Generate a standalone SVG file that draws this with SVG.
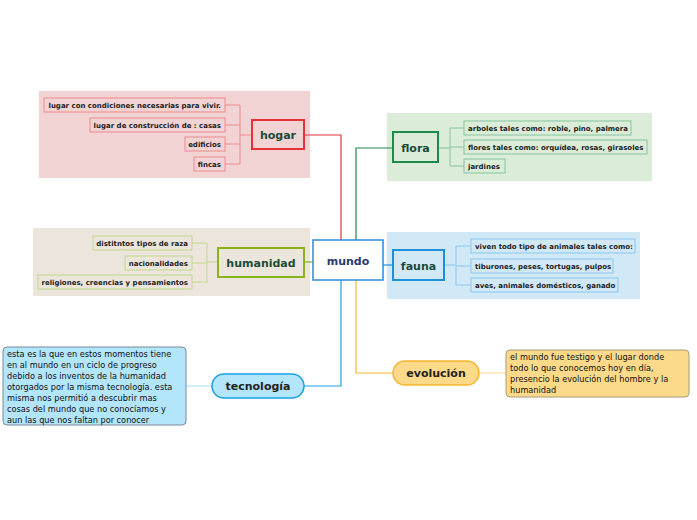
<svg xmlns="http://www.w3.org/2000/svg" width="697" height="520" viewBox="0 0 697 520">
<style>
.t{font-family:"DejaVu Sans",Verdana,sans-serif;font-weight:bold;font-size:7px;fill:#222}
.m{font-family:"DejaVu Sans",Verdana,sans-serif;font-weight:bold;font-size:11px;fill:#1a4a3a;text-anchor:middle}
.p{font-family:"DejaVu Sans",Verdana,sans-serif;font-size:8.2px;fill:#111}
.c{fill:none;stroke-width:1.2}
</style>
<rect width="697" height="520" fill="#fff"/>
<rect x="39" y="91" width="271" height="87" fill="#f2d3d3"/>
<rect x="33" y="228" width="277" height="68" fill="#ebe5dc"/>
<rect x="387" y="113" width="265" height="68" fill="#dbecd8"/>
<rect x="387" y="232" width="253" height="67" fill="#d1e8f7"/>
<g id="connectors" class="c">
<path d="M304 135H341V240" stroke="#e8323a"/>
<path d="M356 240V148H393" stroke="#1d8a4c"/>
<path d="M304 262H313" stroke="#8ab21a"/>
<path d="M383 265H393" stroke="#1d90d8"/>
<path d="M341 280V386H304" stroke="#1ba1e2"/>
<path d="M356 280V373H393" stroke="#f5b731"/>
<path d="M186 386H212" stroke="#b3e5fb"/>
<path d="M479 373H506" stroke="#fde0a0"/>
<path d="M252 135H240M225 105H240V164H225M225 125H240M225 144H240" stroke="#f08a8e" stroke-width="1"/>
<path d="M218 262H207M192 243H207V282H192M192 263H207" stroke="#c2d98a" stroke-width="1"/>
<path d="M438 148H450M464 128H450V166H464M450 147H464" stroke="#86c49c" stroke-width="1"/>
<path d="M444 265H456M471 246H456V285H471M456 266H471" stroke="#8ac6ee" stroke-width="1"/>
</g>
<g id="mundo"><rect x="313" y="240" width="70" height="40" fill="#fff" stroke="#2b8ad4" stroke-width="1.5"/><text x="348" y="265" class="m" style="fill:#2a3b6b">mundo</text></g>
<g id="hogar"><rect x="252" y="120" width="52" height="29" fill="#f2d3d3" stroke="#e8323a" stroke-width="2"/><text x="278" y="139" class="m">hogar</text></g>
<g id="hogar1" fill="#f2d3d3" stroke="#f08a8e">
<rect x="44" y="98" width="181" height="14"/><rect x="90" y="118" width="135" height="14"/><rect x="185" y="137" width="40" height="14"/><rect x="194" y="157" width="31" height="14"/></g>
<g text-anchor="end"><text class="t" x="221" y="108">lugar con condiciones necesarias para vivir.</text><text class="t" x="221" y="128">lugar de construcción de : casas</text><text class="t" x="221" y="147">edificios</text><text class="t" x="221" y="167">fincas</text></g>
<g id="humanidad"><rect x="218" y="248" width="86" height="29" fill="#ebe5dc" stroke="#8ab21a" stroke-width="2"/><text x="261" y="267" class="m">humanidad</text></g>
<g id="hum1" fill="#ebe5dc" stroke="#c2d98a"><rect x="93" y="236" width="99" height="14"/><rect x="125" y="256" width="67" height="14"/><rect x="38" y="275" width="154" height="14"/></g>
<g text-anchor="end"><text class="t" x="188" y="246">distitntos tipos de raza</text><text class="t" x="188" y="266">nacionalidades</text><text class="t" x="188" y="285">religiones, creencias y pensamientos</text></g>
<g id="flora"><rect x="393" y="132" width="45" height="30" fill="#dbecd8" stroke="#1d8a4c" stroke-width="2"/><text x="415.5" y="152" class="m">flora</text></g>
<g id="flora1" fill="#dbecd8" stroke="#86c49c"><rect x="464" y="121" width="167" height="14"/><rect x="464" y="140" width="183" height="14"/><rect x="464" y="159" width="41" height="14"/></g>
<text class="t" x="468" y="131">arboles tales como: roble, pino, palmera</text><text class="t" x="468" y="150">flores tales como: orquídea, rosas, girasoles</text><text class="t" x="468" y="169">jardines</text>
<g id="fauna"><rect x="393" y="250" width="51" height="30" fill="#d1e8f7" stroke="#1d90d8" stroke-width="2"/><text x="418.5" y="270" class="m">fauna</text></g>
<g id="fauna1" fill="#d1e8f7" stroke="#8ac6ee"><rect x="471" y="239" width="164" height="14"/><rect x="471" y="259" width="142" height="14"/><rect x="471" y="278" width="147" height="14"/></g>
<text class="t" x="475" y="249">viven todo tipo de animales tales como:</text><text class="t" x="475" y="269">tiburones, peses, tortugas, pulpos</text><text class="t" x="475" y="288">aves, animales domésticos, ganado</text>
<g id="evolucion"><rect x="393" y="361" width="86" height="24" rx="12" fill="#fdd98a" stroke="#f5b731" stroke-width="1.5"/><text x="436" y="377" class="m" style="fill:#222">evolución</text></g>
<g id="evo-text"><rect x="506" y="350" width="183" height="47" rx="4" fill="#fdd98a" stroke="#a89a7a"/><text class="p"><tspan x="510" y="360">el mundo fue testigo y el lugar donde</tspan><tspan x="510" y="371">todo lo que conocemos hoy en día,</tspan><tspan x="510" y="382">presencio la evolución del hombre y la</tspan><tspan x="510" y="393">humanidad</tspan></text></g>
<g id="tecnologia"><rect x="212" y="374" width="92" height="24" rx="12" fill="#b3e5fb" stroke="#1ba1e2" stroke-width="1.5"/><text x="258" y="390" class="m" style="fill:#222">tecnología</text></g>
<g id="tec-text"><rect x="3" y="347" width="183" height="78" rx="4" fill="#b3e5fb" stroke="#7a8a95"/><text class="p"><tspan x="7" y="357">esta es la que en estos momentos tiene</tspan><tspan x="7" y="368">en al mundo en un ciclo de progreso</tspan><tspan x="7" y="379">debido a los inventos de la humanidad</tspan><tspan x="7" y="390">otorgados por la misma tecnología. esta</tspan><tspan x="7" y="401">misma nos permitió a descubrir mas</tspan><tspan x="7" y="412">cosas del mundo que no conocíamos y</tspan><tspan x="7" y="423">aun las que nos faltan por conocer</tspan></text></g>
</svg>
